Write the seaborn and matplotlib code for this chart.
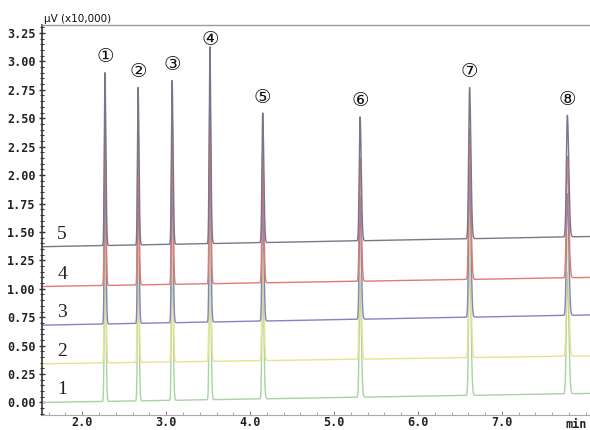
import numpy as np
import pandas as pd
import matplotlib
matplotlib.use("Agg")
import matplotlib.pyplot as plt
import seaborn as sns
from matplotlib.ticker import MultipleLocator
from matplotlib.font_manager import FontProperties

# ---- data ----
peak_labels = ["①", "②", "③", "④", "⑤", "⑥", "⑦", "⑧"]
retention_min = [2.27, 2.665, 3.07, 3.52, 4.15, 5.31, 6.615, 7.78]
peak_height = [1.52, 1.385, 1.44, 1.73, 1.14, 1.09, 1.33, 1.07]   # x10,000 µV above baseline
peak_sigma = [0.0085, 0.0085, 0.009, 0.009, 0.010, 0.011, 0.012, 0.013]  # min

trace_names = ["1", "2", "3", "4", "5"]
baseline_start = [0.00, 0.34, 0.68, 1.02, 1.37]
baseline_end = [0.08, 0.41, 0.77, 1.10, 1.46]
trace_colors = ["#a9d3a3", "#e9e28e", "#8383c4", "#e07b72", "#77778a"]

x_start, x_end = 1.52, 8.05

# ---- build traces ----
t = np.linspace(x_start, x_end, 14000)
frames = []
for name, b0, b1 in zip(trace_names, baseline_start, baseline_end):
    base = b0 + (b1 - b0) * (t - x_start) / (x_end - x_start)
    sig = base.copy()
    for rt, h, s in zip(retention_min, peak_height, peak_sigma):
        d = t - rt
        # slightly tailing peak: narrower front, wider back
        sd = np.where(d < 0, s * 0.9, s * 1.3)
        sig += h * np.exp(-0.5 * (d / sd) ** 2)
    frames.append(pd.DataFrame({"time": t, "signal": sig, "trace": name}))
df = pd.concat(frames, ignore_index=True)

# ---- plot ----
sns.set_style("white")
fig = plt.figure(figsize=(5.9, 4.3), dpi=100)
ax = fig.add_axes([42 / 590, 15 / 430, 548 / 590, 390 / 430])

sns.lineplot(data=df, x="time", y="signal", hue="trace", hue_order=trace_names,
             palette=trace_colors, estimator=None, sort=False, linewidth=1.0,
             legend=False, ax=ax)

ax.set_xlim(x_start, x_end)
ax.set_ylim(-0.11, 3.32)
ax.set_xlabel("")
ax.set_ylabel("")

ax.yaxis.set_minor_locator(MultipleLocator(0.05))
ax.xaxis.set_minor_locator(MultipleLocator(0.2))
ax.set_xticks([2, 3, 4, 5, 6, 7])
ax.set_xticklabels(["2.0", "3.0", "4.0", "5.0", "6.0", "7.0"])
yt = np.arange(0, 3.26, 0.25)
ax.set_yticks(yt)
ax.set_yticklabels([f"{v:.2f}" for v in yt])

mono = FontProperties(family="DejaVu Sans Mono", weight="bold", size=8.5)
for lab in ax.get_yticklabels() + ax.get_xticklabels():
    lab.set_fontproperties(mono)
    lab.set_color("#222222")

ax.tick_params(axis="y", which="major", direction="inout", length=5, width=1.0,
               color="#333333", pad=2, left=True)
ax.tick_params(axis="y", which="minor", direction="inout", length=3, width=0.8,
               color="#333333", left=True)
ax.tick_params(axis="x", which="major", direction="in", length=3, width=0.8,
               color="#888888", pad=1, bottom=True)
ax.tick_params(axis="x", which="minor", direction="in", length=2, width=0.6,
               color="#999999", bottom=True)

ax.spines["left"].set_color("#333333")
ax.spines["left"].set_linewidth(1.2)
ax.spines["top"].set_color("#999999")
ax.spines["top"].set_linewidth(1.0)
ax.spines["bottom"].set_color("#aaaaaa")
ax.spines["bottom"].set_linewidth(0.8)
ax.spines["right"].set_visible(False)

# peak labels
b0_top, b1_top = baseline_start[-1], baseline_end[-1]
for lab, rt, h in zip(peak_labels, retention_min, peak_height):
    top = b0_top + (b1_top - b0_top) * (rt - x_start) / (x_end - x_start) + h
    y = min(top + 0.14, 3.19)
    ax.text(rt, y, lab, ha="center", va="center", fontsize=14,
            family="DejaVu Sans", color="#111111")

# trace labels
for name, b0 in zip(trace_names, baseline_start):
    ax.text(1.76, b0 + 0.11, name, ha="center", va="center", fontsize=14,
            family="Liberation Serif", color="#222222")

fig.text(44 / 590, 1 - 19 / 430, "μV (x10,000)", ha="left", va="center",
         fontsize=7.5, family="DejaVu Sans", color="#111111")
fig.text(576 / 590, 1 - 425 / 430, "min", ha="center", va="center",
         fontsize=8.5, family="DejaVu Sans Mono", weight="bold", color="#222222")

fig.savefig("out.png", dpi=100)
